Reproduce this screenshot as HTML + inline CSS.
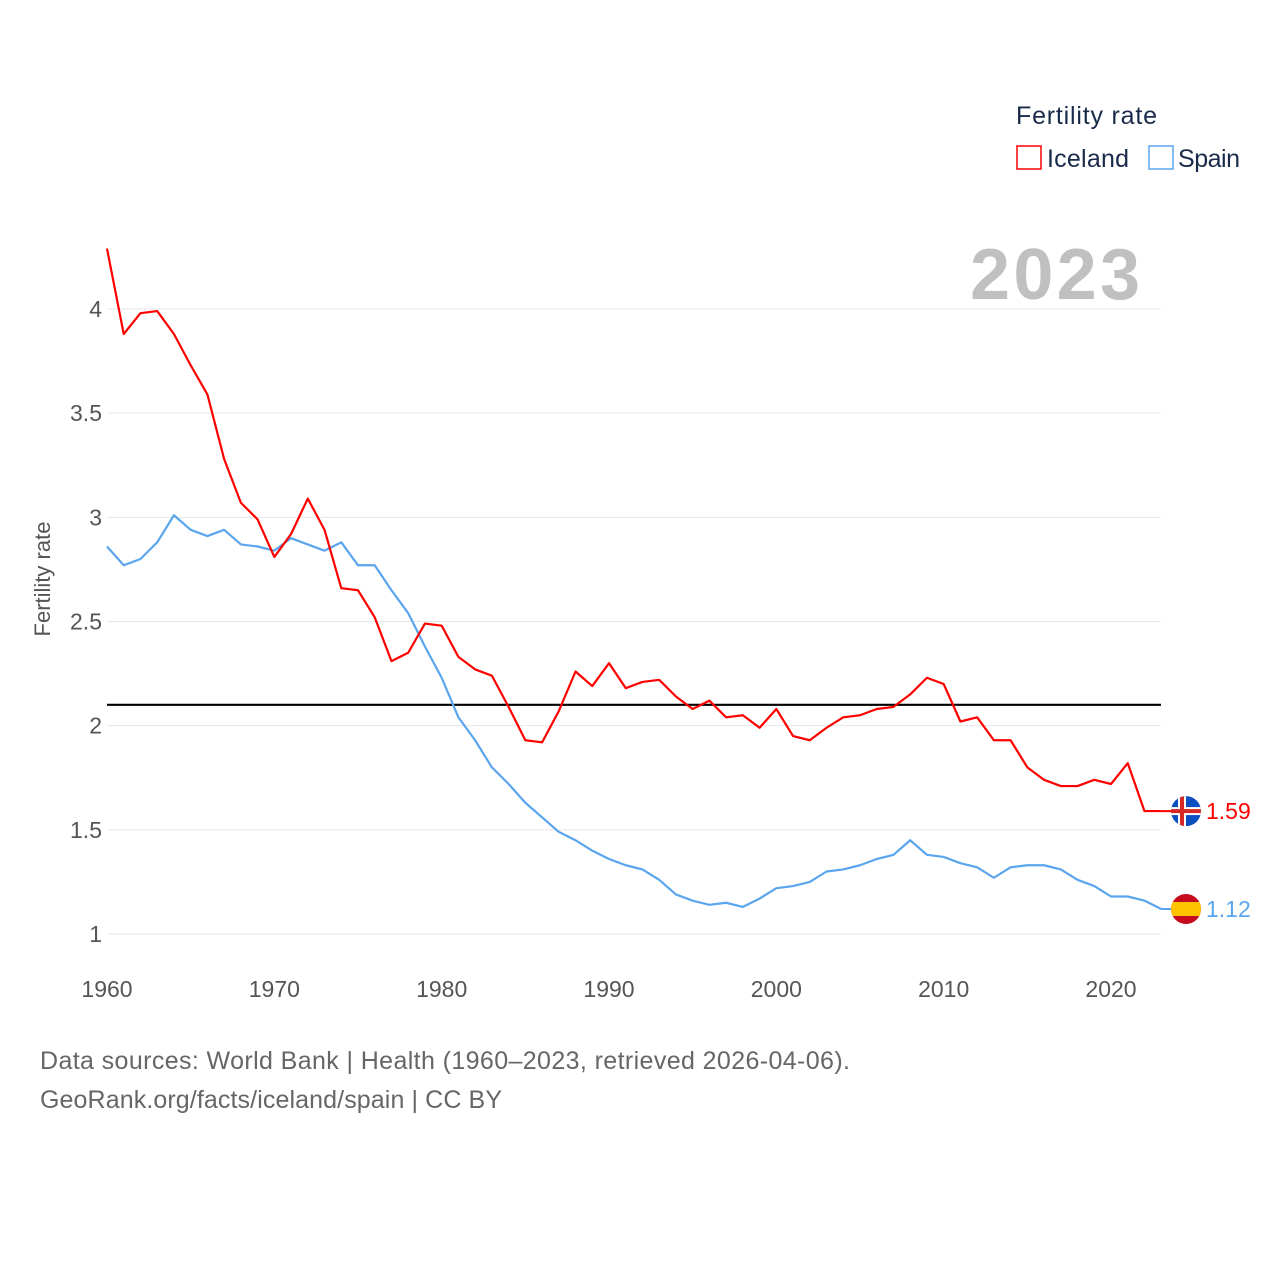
<!DOCTYPE html>
<html><head><meta charset="utf-8"><style>
body{margin:0;background:#fff;width:1280px;height:1280px;overflow:hidden;font-family:"Liberation Sans",sans-serif}
svg{position:absolute;left:0;top:0}
</style></head><body>
<svg id="chart" width="1280" height="1280" font-family="Liberation Sans, sans-serif">
<text x="1016" y="124" font-size="25" fill="#1a2a4a" textLength="141">Fertility rate</text>
<g><rect x="1017" y="146" width="24" height="23" fill="none" stroke="#f00" stroke-width="1.5"/><text x="1047" y="167" font-size="25" fill="#1a2a4a" textLength="82">Iceland</text></g>
<g><rect x="1149" y="146" width="24" height="23" fill="none" stroke="#5aa5ee" stroke-width="1.5"/><text x="1178" y="167" font-size="25" fill="#1a2a4a" textLength="62">Spain</text></g>
<text x="1140" y="299" text-anchor="end" font-size="72" font-weight="bold" fill="#c0c0c0" textLength="170">2023</text>
<text transform="translate(50,579) rotate(-90)" text-anchor="middle" font-size="22" fill="#555">Fertility rate</text>
<g id="grid"></g><g id="series"></g>
<text x="40" y="1069" font-size="25" fill="#666" textLength="810">Data sources: World Bank | Health (1960–2023, retrieved 2026-04-06).</text>
<text x="40" y="1108" font-size="25" fill="#666" textLength="462">GeoRank.org/facts/iceland/spain | CC BY</text>
</svg>
<script>
const years=[];for(let y=1960;y<=2023;y++)years.push(y);
const iceland=[4.29,3.88,3.98,3.99,3.88,3.73,3.59,3.28,3.07,2.99,2.81,2.92,3.09,2.94,2.66,2.65,2.52,2.31,2.35,2.49,2.48,2.33,2.27,2.24,2.09,1.93,1.92,2.07,2.26,2.19,2.30,2.18,2.21,2.22,2.14,2.08,2.12,2.04,2.05,1.99,2.08,1.95,1.93,1.99,2.04,2.05,2.08,2.09,2.15,2.23,2.20,2.02,2.04,1.93,1.93,1.80,1.74,1.71,1.71,1.74,1.72,1.82,1.59,1.59];
const spain=[2.86,2.77,2.80,2.88,3.01,2.94,2.91,2.94,2.87,2.86,2.84,2.90,2.87,2.84,2.88,2.77,2.77,2.65,2.54,2.38,2.23,2.04,1.93,1.80,1.72,1.63,1.56,1.49,1.45,1.40,1.36,1.33,1.31,1.26,1.19,1.16,1.14,1.15,1.13,1.17,1.22,1.23,1.25,1.30,1.31,1.33,1.36,1.38,1.45,1.38,1.37,1.34,1.32,1.27,1.32,1.33,1.33,1.31,1.26,1.23,1.18,1.18,1.16,1.12];
const yTicks=[1,1.5,2,2.5,3,3.5,4];
const yTickLabels=["1","1.5","2","2.5","3","3.5","4"];
const xTicks=[1960,1970,1980,1990,2000,2010,2020];
const replacement=2.1;
const X=y=>107+(y-1960)*(1004/60);
const Y=v=>934-(v-1)*(625/3);
const NS="http://www.w3.org/2000/svg";
function mk(tag,attrs,parent){const e=document.createElementNS(NS,tag);for(const k in attrs)e.setAttribute(k,attrs[k]);parent.appendChild(e);return e;}
const grid=document.getElementById('grid'),ser=document.getElementById('series');
yTicks.forEach((t,i)=>{
 const l=mk('line',{x1:107,x2:1161,y1:Y(t),y2:Y(t),stroke:'#e6e6e6','stroke-width':1},grid);
 
 
 const tx=mk('text',{x:102,y:Y(t)+8,'text-anchor':'end','font-size':23,fill:'#555'},grid);
 tx.textContent=yTickLabels[i];
 
 
});
xTicks.forEach(t=>{
 const tx=mk('text',{x:X(t),y:997,'text-anchor':'middle','font-size':23,fill:'#555'},grid);
 tx.textContent=t;
 
 
});
const rl=mk('line',{x1:107,x2:1161,y1:Y(replacement),y2:Y(replacement),stroke:'#000','stroke-width':2.2},ser);


function line(vals,color,name){
 const p=mk('polyline',{points:vals.map((v,i)=>X(years[i])+','+Y(v)).join(' '),fill:'none',stroke:color,'stroke-width':2.2,'stroke-linejoin':'round'},ser);
 
 
}
line(spain,'#5aa5ee','spain-line');
line(iceland,'#f00','iceland-line');
function endLabel(vals,color,name,flag){
 const v=vals[vals.length-1],cx=1186,cy=Y(v);
 const g=mk('g',{},ser);
 
 
 mk('line',{x1:X(2023),x2:cx,y1:cy,y2:cy,stroke:color,'stroke-width':2},g);
 const cl='c'+name;
 const cp=mk('clipPath',{id:cl},g);mk('circle',{cx:cx,cy:cy,r:15},cp);
 const f=mk('g',{'clip-path':'url(#'+cl+')'},g);
 if(flag==='is'){
  mk('rect',{x:cx-15,y:cy-15,width:30,height:30,fill:'#0b4fc0'},f);
  mk('rect',{x:cx-8,y:cy-15,width:8,height:30,fill:'#fff'},f);
  mk('rect',{x:cx-15,y:cy-4,width:30,height:8,fill:'#fff'},f);
  mk('rect',{x:cx-6,y:cy-15,width:4,height:30,fill:'#d72828'},f);
  mk('rect',{x:cx-15,y:cy-2,width:30,height:4,fill:'#d72828'},f);
 }else{
  mk('rect',{x:cx-15,y:cy-15,width:30,height:30,fill:'#c60b1e'},f);
  mk('rect',{x:cx-15,y:cy-7,width:30,height:14,fill:'#ffc400'},f);
 }
 const t=mk('text',{x:1206,y:cy+8,'font-size':23,fill:color},g);
 t.textContent=v.toFixed(2);
}
endLabel(iceland,'#f00','iceland','is');
endLabel(spain,'#5aa5ee','spain','es');
</script>
</body></html>
